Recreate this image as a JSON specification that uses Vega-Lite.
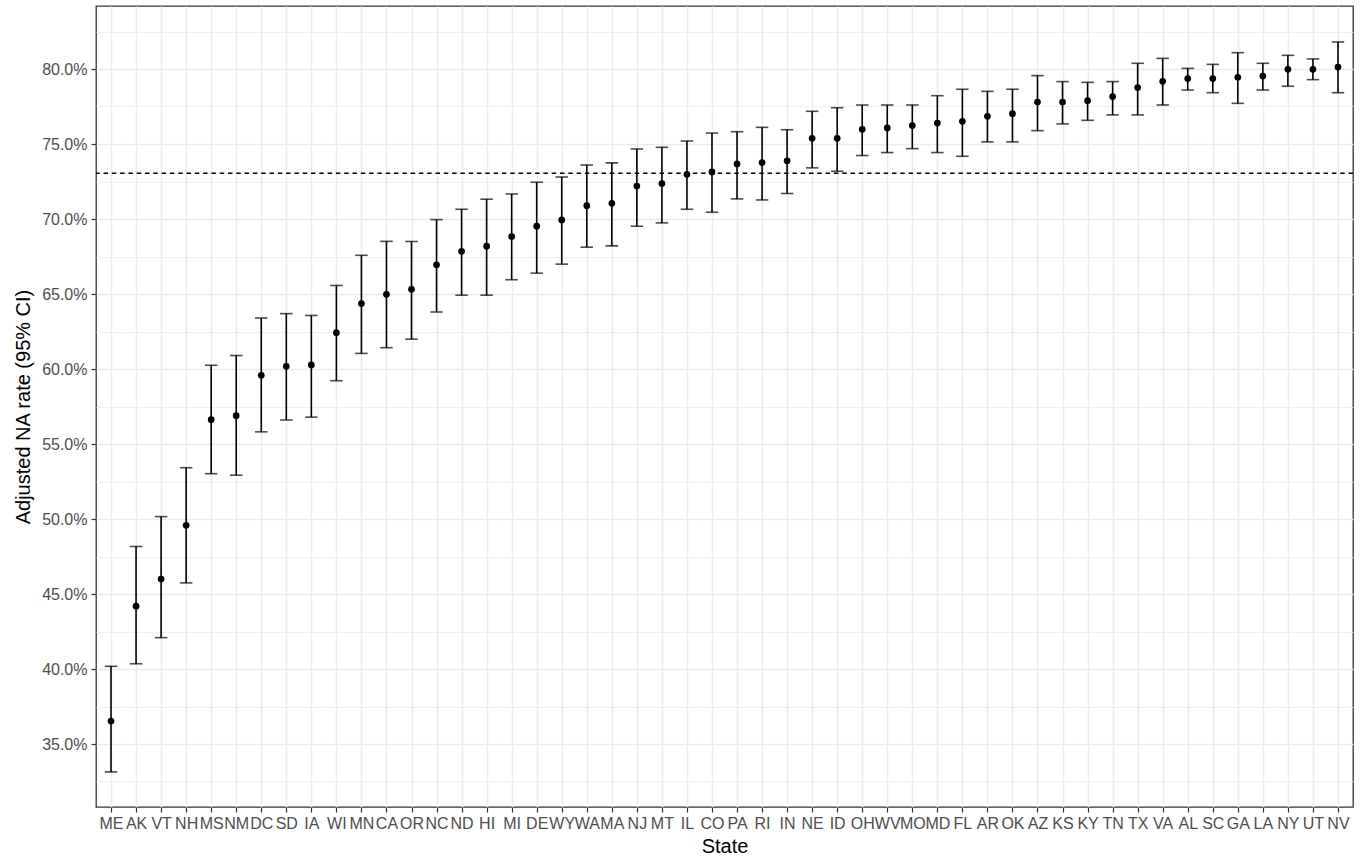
{
  "$schema": "https://vega.github.io/schema/vega-lite/v6.json",
  "width": 1257,
  "height": 801,
  "autosize": {"type": "none"},
  "padding": {"left": 96, "top": 6, "right": 13, "bottom": 53},
  "background": "white",
  "config": {
    "view": {"stroke": "#333333", "strokeWidth": 1.3, "fill": "white"},
    "axis": {
      "labelFont": "Liberation Sans",
      "labelFontSize": 16,
      "labelColor": "#4D4D4D",
      "titleFont": "Liberation Sans",
      "titleFontSize": 20,
      "titleFontWeight": "normal",
      "titleColor": "#000000",
      "domain": false,
      "tickColor": "#333333",
      "tickWidth": 1.2,
      "tickSize": 5,
      "gridColor": "#EBEBEB"
    }
  },
  "data": {
    "values": [
      {"state": "ME", "rate": 0.3653, "lo": 0.3314, "hi": 0.4018},
      {"state": "AK", "rate": 0.4419, "lo": 0.4035, "hi": 0.4817},
      {"state": "VT", "rate": 0.4600, "lo": 0.4209, "hi": 0.5016},
      {"state": "NH", "rate": 0.4958, "lo": 0.4574, "hi": 0.5342},
      {"state": "MS", "rate": 0.5662, "lo": 0.5302, "hi": 0.6025},
      {"state": "NM", "rate": 0.5689, "lo": 0.5292, "hi": 0.6090},
      {"state": "DC", "rate": 0.5958, "lo": 0.5581, "hi": 0.6340},
      {"state": "SD", "rate": 0.6018, "lo": 0.5660, "hi": 0.6369},
      {"state": "IA", "rate": 0.6027, "lo": 0.5679, "hi": 0.6357},
      {"state": "WI", "rate": 0.6242, "lo": 0.5922, "hi": 0.6557},
      {"state": "MN", "rate": 0.6436, "lo": 0.6104, "hi": 0.6758},
      {"state": "CA", "rate": 0.6498, "lo": 0.6142, "hi": 0.6851},
      {"state": "OR", "rate": 0.6531, "lo": 0.6199, "hi": 0.6850},
      {"state": "NC", "rate": 0.6695, "lo": 0.6380, "hi": 0.6996},
      {"state": "ND", "rate": 0.6785, "lo": 0.6492, "hi": 0.7065},
      {"state": "HI", "rate": 0.6819, "lo": 0.6492, "hi": 0.7132},
      {"state": "MI", "rate": 0.6883, "lo": 0.6595, "hi": 0.7167},
      {"state": "DE", "rate": 0.6952, "lo": 0.6639, "hi": 0.7245},
      {"state": "WY", "rate": 0.6994, "lo": 0.6699, "hi": 0.7280},
      {"state": "WA", "rate": 0.7089, "lo": 0.6812, "hi": 0.7360},
      {"state": "MA", "rate": 0.7105, "lo": 0.6821, "hi": 0.7374},
      {"state": "NJ", "rate": 0.7220, "lo": 0.6952, "hi": 0.7467},
      {"state": "MT", "rate": 0.7236, "lo": 0.6974, "hi": 0.7478},
      {"state": "IL", "rate": 0.7298, "lo": 0.7065, "hi": 0.7520},
      {"state": "CO", "rate": 0.7314, "lo": 0.7045, "hi": 0.7573},
      {"state": "PA", "rate": 0.7367, "lo": 0.7134, "hi": 0.7582},
      {"state": "RI", "rate": 0.7376, "lo": 0.7127, "hi": 0.7611},
      {"state": "IN", "rate": 0.7388, "lo": 0.7170, "hi": 0.7595},
      {"state": "NE", "rate": 0.7538, "lo": 0.7341, "hi": 0.7718},
      {"state": "ID", "rate": 0.7538, "lo": 0.7318, "hi": 0.7742},
      {"state": "OH", "rate": 0.7598, "lo": 0.7423, "hi": 0.7760},
      {"state": "WV", "rate": 0.7607, "lo": 0.7443, "hi": 0.7760},
      {"state": "MO", "rate": 0.7623, "lo": 0.7469, "hi": 0.7760},
      {"state": "MD", "rate": 0.7640, "lo": 0.7443, "hi": 0.7822},
      {"state": "FL", "rate": 0.7651, "lo": 0.7418, "hi": 0.7865},
      {"state": "AR", "rate": 0.7685, "lo": 0.7514, "hi": 0.7851},
      {"state": "OK", "rate": 0.7702, "lo": 0.7514, "hi": 0.7865},
      {"state": "AZ", "rate": 0.7780, "lo": 0.7589, "hi": 0.7956},
      {"state": "KS", "rate": 0.7780, "lo": 0.7634, "hi": 0.7916},
      {"state": "KY", "rate": 0.7789, "lo": 0.7658, "hi": 0.7911},
      {"state": "TN", "rate": 0.7816, "lo": 0.7694, "hi": 0.7916},
      {"state": "TX", "rate": 0.7876, "lo": 0.7694, "hi": 0.8038},
      {"state": "VA", "rate": 0.7918, "lo": 0.7760, "hi": 0.8071},
      {"state": "AL", "rate": 0.7936, "lo": 0.7860, "hi": 0.8004},
      {"state": "SC", "rate": 0.7936, "lo": 0.7842, "hi": 0.8031},
      {"state": "GA", "rate": 0.7945, "lo": 0.7771, "hi": 0.8109},
      {"state": "LA", "rate": 0.7953, "lo": 0.7860, "hi": 0.8038},
      {"state": "NY", "rate": 0.7998, "lo": 0.7885, "hi": 0.8091},
      {"state": "UT", "rate": 0.7998, "lo": 0.7929, "hi": 0.8067},
      {"state": "NV", "rate": 0.8013, "lo": 0.7842, "hi": 0.8180}
    ]
  },
  "encoding": {
    "x": {
      "field": "state",
      "type": "nominal",
      "sort": null,
      "scale": {"type": "point", "padding": 0.6},
      "axis": {
        "title": "State",
        "labelAngle": 0,
        "labelPadding": 3,
        "labelOverlap": false,
        "labelFlush": false,
        "labelBound": false,
        "titlePadding": 5,
        "grid": true,
        "gridWidth": 1.5
      }
    }
  },
  "layer": [
    {
      "mark": {"type": "rule", "color": "#000000", "strokeWidth": 1.6},
      "encoding": {
        "y": {
          "field": "lo",
          "type": "quantitative",
          "scale": {"domain": [0.308, 0.842], "nice": false, "zero": false},
          "axis": {
            "title": "Adjusted NA rate (95% CI)",
            "format": ".1%",
            "values": [0.325, 0.35, 0.375, 0.4, 0.425, 0.45, 0.475, 0.5, 0.525, 0.55, 0.575, 0.6, 0.625, 0.65, 0.675, 0.7, 0.725, 0.75, 0.775, 0.8, 0.825],
            "labelExpr": "round(datum.value*1000) % 50 == 0 ? datum.label : ''",
            "labelPadding": 4,
            "titlePadding": 8,
            "grid": true,
            "gridWidth": {"condition": {"test": "round(datum.value*1000) % 50 != 0", "value": 0.8}, "value": 1.5},
            "tickOpacity": {"condition": {"test": "round(datum.value*1000) % 50 != 0", "value": 0}, "value": 1}
          }
        },
        "y2": {"field": "hi"}
      }
    },
    {
      "mark": {"type": "tick", "color": "#000000", "thickness": 1.6, "size": 12.5},
      "encoding": {"y": {"field": "lo", "type": "quantitative"}}
    },
    {
      "mark": {"type": "tick", "color": "#000000", "thickness": 1.6, "size": 12.5},
      "encoding": {"y": {"field": "hi", "type": "quantitative"}}
    },
    {
      "mark": {"type": "circle", "color": "#000000", "opacity": 1, "size": 45},
      "encoding": {"y": {"field": "rate", "type": "quantitative"}}
    },
    {
      "data": {"values": [{"ref": 0.7305}]},
      "mark": {"type": "rule", "color": "#000000", "strokeWidth": 1.5, "strokeDash": [4.5, 3.8]},
      "encoding": {"y": {"field": "ref", "type": "quantitative"}, "x": null}
    }
  ]
}
